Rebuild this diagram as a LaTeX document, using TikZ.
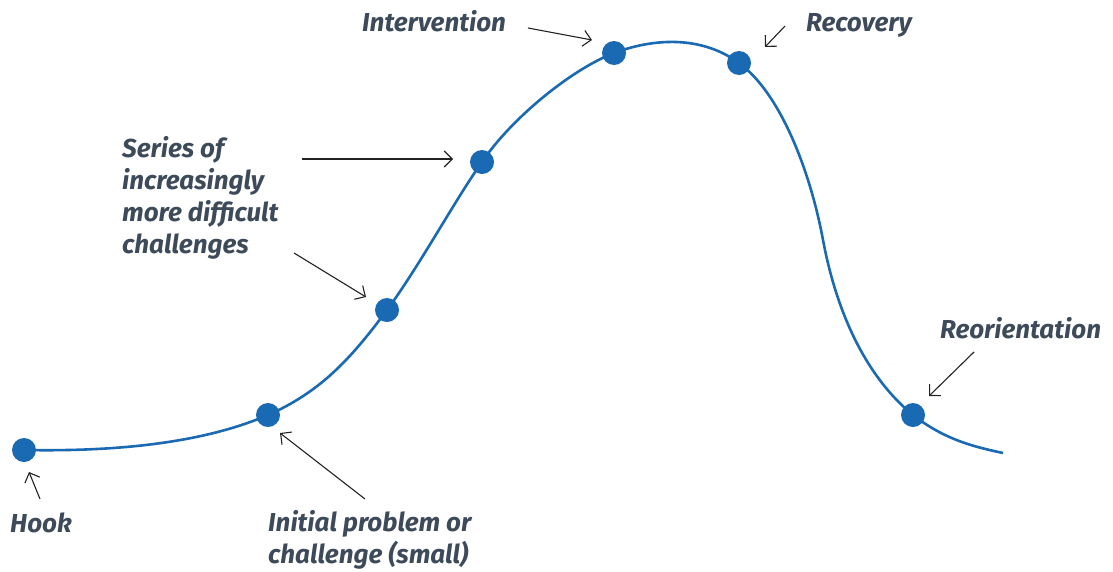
\documentclass[tikz,border=0pt]{standalone}
\usepackage{fontspec}
\setmainfont{Fira Sans}
\usetikzlibrary{arrows.meta}
\definecolor{arc}{HTML}{1A69B3}
\definecolor{ink}{HTML}{3D4A5A}
\definecolor{pointer}{HTML}{222222}
\begin{document}
\begin{tikzpicture}[x=1pt,y=-1pt,
  arcline/.style={draw=arc,line width=2.6pt},
  dot/.style={circle,fill=arc,inner sep=0pt,minimum size=24pt},
  lbl/.style={text=ink,font=\fontsize{26}{32}\selectfont\bfseries\itshape,inner sep=0pt},
  pointer/.style={draw=pointer,line width=1.1pt,-{Straight Barb[length=8pt,width=16pt,line width=1.1pt]}}]
\useasboundingbox (0,0) rectangle (1113,571);

% positions of the stages along the story arc
\coordinate (pHook) at (24,450);
\coordinate (pInit) at (268,415);
\coordinate (pSerA) at (387,310);
\coordinate (pSerB) at (482,162);
\coordinate (pInterv) at (614,53);
\coordinate (pRecov) at (739,63);
\coordinate (pReori) at (913,415);
\coordinate (tail) at (1003,453);

% story arc
\draw[arcline] (pHook)
  .. controls (130,452) and (210,440) .. (pInit)
  .. controls (320,392) and (350,360) .. (pSerA)
  .. controls (420,265) and (455,200) .. (pSerB)
  .. controls (510,120) and (570,70) .. (pInterv)
  .. controls (660,36) and (705,38) .. (pRecov)
  .. controls (780,93) and (810,170) .. (823,240)
  .. controls (838,320) and (870,380) .. (pReori)
  .. controls (945,440) and (975,447) .. (tail);

% stage markers
\node[dot] (hook) at (pHook) {};
\node[dot] (initial) at (pInit) {};
\node[dot] (seriesA) at (pSerA) {};
\node[dot] (seriesB) at (pSerB) {};
\node[dot] (interv) at (pInterv) {};
\node[dot] (recov) at (pRecov) {};
\node[dot] (reori) at (pReori) {};

% labels
\node[lbl,anchor=base west] (thook) at (10,532) {Hook};
\node[lbl,anchor=north west,align=left] (tinit) at (268,510) {Initial problem or\\challenge (small)};
\node[lbl,anchor=north west,align=left] (tseries) at (122,136) {Series of\\increasingly\\more difficult\\challenges};
\node[lbl,anchor=base west] (tinterv) at (362,31) {Intervention};
\node[lbl,anchor=base west] (trecov) at (806,31) {Recovery};
\node[lbl,anchor=base west] (treori) at (940,338) {Reorientation};

% pointers from labels to stages
\coordinate (hookT) at (40,499);   \coordinate (hookH) at (29,472);
\coordinate (initT) at (365,499);  \coordinate (initH) at (280,433);
\coordinate (serAT) at (294,253);  \coordinate (serAH) at (366,297);
\coordinate (serBT) at (302,159);  \coordinate (serBH) at (453,159);
\coordinate (intT) at (528,28);    \coordinate (intH) at (592,40);
\coordinate (recT) at (785,26);    \coordinate (recH) at (765,47);
\coordinate (reoT) at (974,352);   \coordinate (reoH) at (929,396);
\draw[pointer] (hookT) -- (hookH);
\draw[pointer] (initT) -- (initH);
\draw[pointer] (serAT) -- (serAH);
\draw[pointer] (serBT) -- (serBH);
\draw[pointer] (intT) -- (intH);
\draw[pointer] (recT) -- (recH);
\draw[pointer] (reoT) -- (reoH);
\end{tikzpicture}
\end{document}
